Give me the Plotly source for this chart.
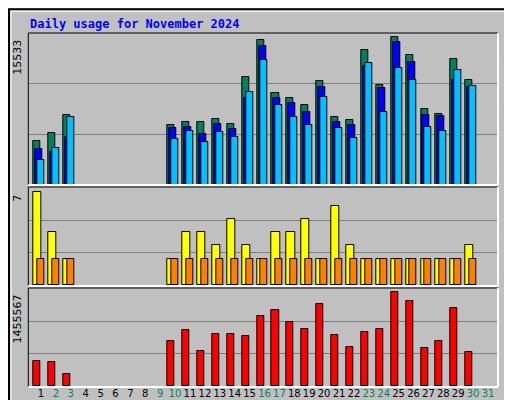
import plotly.graph_objects as go

days = list(range(1, 32))
active = [1, 2, 3, 10, 11, 12, 13, 14, 15, 16, 17, 18, 19, 20, 21, 22, 23, 24, 25, 26, 27, 28, 29, 30]
hits = [4674, 5517, 7415, 6361, 6677, 6677, 6993, 6466, 11421, 15216, 9734, 9207, 8469, 10999, 7204, 6888, 14162, 10577, 15533, 13635, 8047, 7520, 13213, 11105]
files = [3830, 3514, 5095, 6044, 6150, 5412, 6466, 5939, 9207, 14583, 9207, 8680, 7731, 10366, 6677, 6360, 12475, 10261, 15005, 12896, 7415, 7309, 11104, 10366]
pages = [2671, 3936, 7204, 4884, 5728, 4568, 5622, 5095, 9839, 13107, 8469, 7204, 6360, 9312, 6044, 4990, 12791, 7731, 12264, 11104, 6150, 5728, 12158, 10472]
visits = [7, 4, 2, 2, 4, 4, 3, 5, 3, 2, 4, 4, 5, 2, 6, 3, 2, 2, 2, 2, 2, 2, 2, 3]
sites = [2] * 24
kbytes = [387800, 371860, 180620, 706540, 865900, 547170, 802150, 802150, 770280, 1089030, 1184650, 993400, 881840, 1280270, 786220, 610910, 834030, 881840, 1455567, 1328070, 594970, 706540, 1216520, 531230]
weekend = {2, 3, 9, 10, 16, 17, 23, 24, 30, 31}

R1, R2, R3 = 16000, 7.33, 1507000
BG = "#C0C0C0"
line = dict(color="black", width=1)

fig = go.Figure()
def bar(y, color, off, w, ax):
    fig.add_trace(go.Bar(x=active, y=y, marker=dict(color=color, line=line), offset=off, width=w,
                         xaxis="x" + ax, yaxis="y" + ax, showlegend=False, hoverinfo="skip"))

bar(hits, "#00805c", -0.51, 0.47, "")
bar(files, "#0000ff", -0.38, 0.47, "")
bar(pages, "#00c0ff", -0.25, 0.47, "")
bar(visits, "#ffff00", -0.51, 0.55, "2")
bar(sites, "#ff8000", -0.25, 0.47, "2")
bar(kbytes, "#ff0000", -0.51, 0.47, "3")

xr = [0.15, 31.67]
xd = [20.3 / 512, 490 / 512]
ticktext = [f'<span style="color:{"#00805c" if d in weekend else "black"}">{d}</span>' for d in days]

def yax(R, dom):
    return dict(domain=dom, range=[0, R], tickvals=[R / 3, 2 * R / 3], ticktext=["", ""],
                showgrid=True, gridcolor="#808080", gridwidth=1, zeroline=False, ticks="", fixedrange=True)

fig.update_layout(
    width=512, height=400, margin=dict(l=0, r=0, t=0, b=0, autoexpand=False),
    paper_bgcolor=BG, plot_bgcolor=BG, barmode="overlay", bargap=0,
    font=dict(family="DejaVu Sans", size=11, color="black"),
    xaxis=dict(domain=xd, range=xr, anchor="y", showticklabels=False, showgrid=False, zeroline=False),
    xaxis2=dict(domain=xd, range=xr, anchor="y2", showticklabels=False, showgrid=False, zeroline=False),
    xaxis3=dict(domain=xd, range=xr, anchor="y3", tickvals=days, ticktext=ticktext, ticks="",
                tickangle=0, automargin=False, showgrid=False, zeroline=False, tickfont=dict(size=10)),
    yaxis=yax(R1, [1 - 177 / 400, 1 - 25 / 400]),
    yaxis2=yax(R2, [1 - 277 / 400, 1 - 180 / 400]),
    yaxis3=yax(R3, [1 - 378 / 400, 1 - 281 / 400]),
)

ann = [
    dict(text="<b>Daily usage for November 2024</b>", x=20 / 512, y=1 - 16 / 400, xref="paper", yref="paper",
         xanchor="left", yanchor="middle", showarrow=False, font=dict(family="DejaVu Sans Mono", size=12, color="#0000ff")),
]
for val, yr in [("15533", "y"), ("7", "y2"), ("1455567", "y3")]:
    ann.append(dict(text=val, x=xd[0], y=float(val), xref="paper", yref=yr, xanchor="right", yanchor="top",
                    xshift=-2, textangle=-90, showarrow=False, font=dict(size=11)))
mono = dict(family="DejaVu Sans Mono", size=11)
legends = [
    ('<span style="color:#00c0ff">Pages</span> / <span style="color:#0000ff">Files</span> / <span style="color:#00805c">Hits</span>', 101),
    ('<span style="color:#ff8000">Sites</span> / <span style="color:#ffff00">Visits</span>', 228),
    ('<span style="color:#ff0000">kB F</span> / <span style="color:#0000ff">kB In</span> / <span style="color:#00805c">kB Out</span>', 329),
]
for t, yp in legends:
    ann.append(dict(text=t, x=501 / 512, y=1 - yp / 400, xref="paper", yref="paper", xanchor="center",
                    yanchor="middle", textangle=-90, showarrow=False, font=mono))
fig.update_layout(annotations=ann)

shapes = [
    dict(type="rect", xref="paper", yref="paper", x0=0.002, y0=0.003, x1=0.998, y1=0.997, line=dict(color="black", width=2)),
    dict(type="rect", xref="paper", yref="paper", x0=0.006, y0=0.012, x1=0.994, y1=0.992, line=dict(color="white", width=1)),
]
for top, bot in [(25, 177), (179, 278), (280, 379)]:
    y0, y1 = 1 - bot / 400, 1 - top / 400
    shapes.append(dict(type="line", xref="paper", yref="paper", x0=xd[0], x1=xd[1], y0=y1, y1=y1, line=dict(color="black", width=1)))
    shapes.append(dict(type="line", xref="paper", yref="paper", x0=xd[0], x1=xd[0], y0=y0, y1=y1, line=dict(color="black", width=1)))
    shapes.append(dict(type="line", xref="paper", yref="paper", x0=xd[0], x1=xd[1], y0=y0, y1=y0, line=dict(color="white", width=2)))
    shapes.append(dict(type="line", xref="paper", yref="paper", x0=xd[1], x1=xd[1], y0=y0, y1=y1, line=dict(color="white", width=2)))
fig.update_layout(shapes=shapes)

fig.write_html("out.html")
